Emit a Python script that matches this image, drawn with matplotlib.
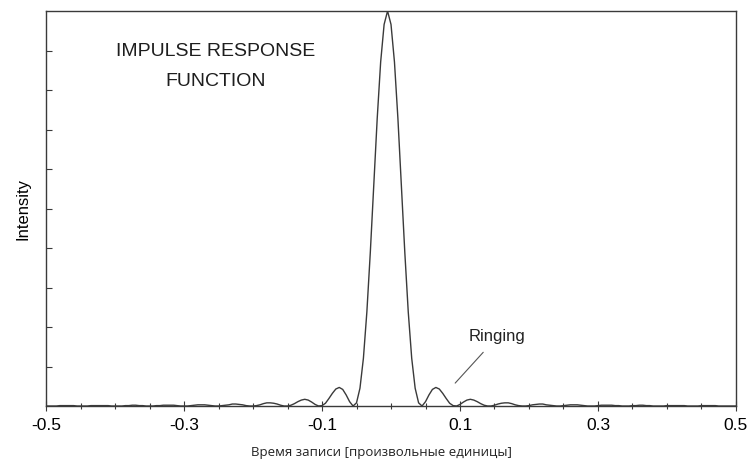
import matplotlib
matplotlib.use('Agg')
import matplotlib.pyplot as plt
import numpy as np

# x grid every 0.005 from -0.5 to 0.5 (201 samples), peak sits at -0.005
x_start, x_stop, x_step = -0.5, 0.5, 0.005
time = np.round(np.arange(x_start, x_stop + x_step / 2, x_step), 3)

# intensity (0..10 scale, no labels on the y axis)
intensity = [
	0.00, 0.00, 0.00, 0.00, 0.01, 0.01, 0.01, 0.01, 0.01, 0.00,
	0.00, 0.00, 0.00, 0.01, 0.01, 0.01, 0.01, 0.01, 0.01, 0.00,
	0.00, 0.00, 0.00, 0.01, 0.01, 0.02, 0.02, 0.01, 0.01, 0.00,
	0.00, 0.00, 0.01, 0.01, 0.02, 0.02, 0.02, 0.02, 0.01, 0.00,
	0.00, 0.00, 0.01, 0.02, 0.03, 0.03, 0.03, 0.02, 0.01, 0.00,
	0.00, 0.01, 0.02, 0.03, 0.05, 0.05, 0.04, 0.03, 0.01, 0.00,
	0.00, 0.01, 0.03, 0.06, 0.08, 0.08, 0.07, 0.05, 0.02, 0.00,
	0.00, 0.02, 0.06, 0.11, 0.15, 0.17, 0.15, 0.10, 0.04, 0.00,
	0.01, 0.07, 0.19, 0.32, 0.43, 0.47, 0.42, 0.28, 0.11, 0.00,
	0.08, 0.45, 1.21, 2.38, 3.89, 5.59, 7.28, 8.71, 9.66,
	10.00,
	9.66, 8.71, 7.28, 5.59, 3.89, 2.38, 1.21, 0.45, 0.08, 0.00,
	0.11, 0.28, 0.42, 0.47, 0.43, 0.32, 0.19, 0.07, 0.01, 0.00,
	0.04, 0.10, 0.15, 0.17, 0.15, 0.11, 0.06, 0.02, 0.00, 0.00,
	0.02, 0.05, 0.07, 0.08, 0.08, 0.06, 0.03, 0.01, 0.00, 0.00,
	0.01, 0.03, 0.04, 0.05, 0.05, 0.03, 0.02, 0.01, 0.00, 0.00,
	0.01, 0.02, 0.03, 0.03, 0.03, 0.02, 0.01, 0.00, 0.00, 0.00,
	0.01, 0.02, 0.02, 0.02, 0.02, 0.01, 0.01, 0.00, 0.00, 0.00,
	0.01, 0.01, 0.02, 0.02, 0.01, 0.01, 0.00, 0.00, 0.00, 0.00,
	0.01, 0.01, 0.01, 0.01, 0.01, 0.01, 0.00, 0.00, 0.00, 0.00,
	0.01, 0.01, 0.01, 0.01, 0.01, 0.00, 0.00, 0.00, 0.00, 0.00,
	0.00,
]

major_ticks = [-0.5, -0.3, -0.1, 0.1, 0.3, 0.5]
major_labels = ['-0.5', '-0.3', '-0.1', '0.1', '0.3', '0.5']
minor_ticks = np.round(np.arange(-0.45, 0.5, 0.05), 2)
y_ticks = [1, 2, 3, 4, 5, 6, 7, 8, 9]

line_col = '#3a3a3a'

plt.rcParams['font.family'] = ['Liberation Sans', 'DejaVu Sans']

fig = plt.figure(figsize=(7.51, 4.67), dpi=100)
ax = fig.add_axes([0.0613, 0.1306, 0.9187, 0.8458])

ax.plot(time, intensity, color=line_col, linewidth=1.0)

ax.set_xlim(-0.5, 0.5)
ax.set_ylim(0, 10)

for side in ax.spines:
	ax.spines[side].set_color(line_col)
	ax.spines[side].set_linewidth(1.0)

ax.set_xticks(major_ticks)
ax.set_xticklabels(major_labels, fontsize=12.5)
ax.set_xticks(minor_ticks, minor=True)
ax.tick_params(axis='x', which='major', direction='inout', length=7, width=0.8, color=line_col, pad=5)
ax.tick_params(axis='x', which='minor', direction='inout', length=4, width=0.8, color=line_col)
ax.set_yticks(y_ticks)
ax.set_yticklabels([])
ax.tick_params(axis='y', direction='in', length=4, width=0.8, color=line_col)

ax.set_ylabel('Intensity', fontsize=12, labelpad=8)
# x label sits in the figure margin, below the tick labels
fig.text(0.508, 0.032, 'Время записи [произвольные единицы]', fontsize=9.5, family=['Open Sans', 'DejaVu Sans'],
	ha='center', va='center', color='#222222')

ax.text(-0.254, 8.6, 'IMPULSE RESPONSE\nFUNCTION', fontsize=14, ha='center', va='center', linespacing=2.0, color='#1e1e1e')

ax.annotate('Ringing', xy=(0.093, 0.58), xytext=(0.154, 1.75), fontsize=12, ha='center', va='center', color='#222222',
	arrowprops=dict(arrowstyle='-', color='#555555', linewidth=0.8, shrinkA=5, shrinkB=0))

fig.savefig('out.png', dpi=100)
